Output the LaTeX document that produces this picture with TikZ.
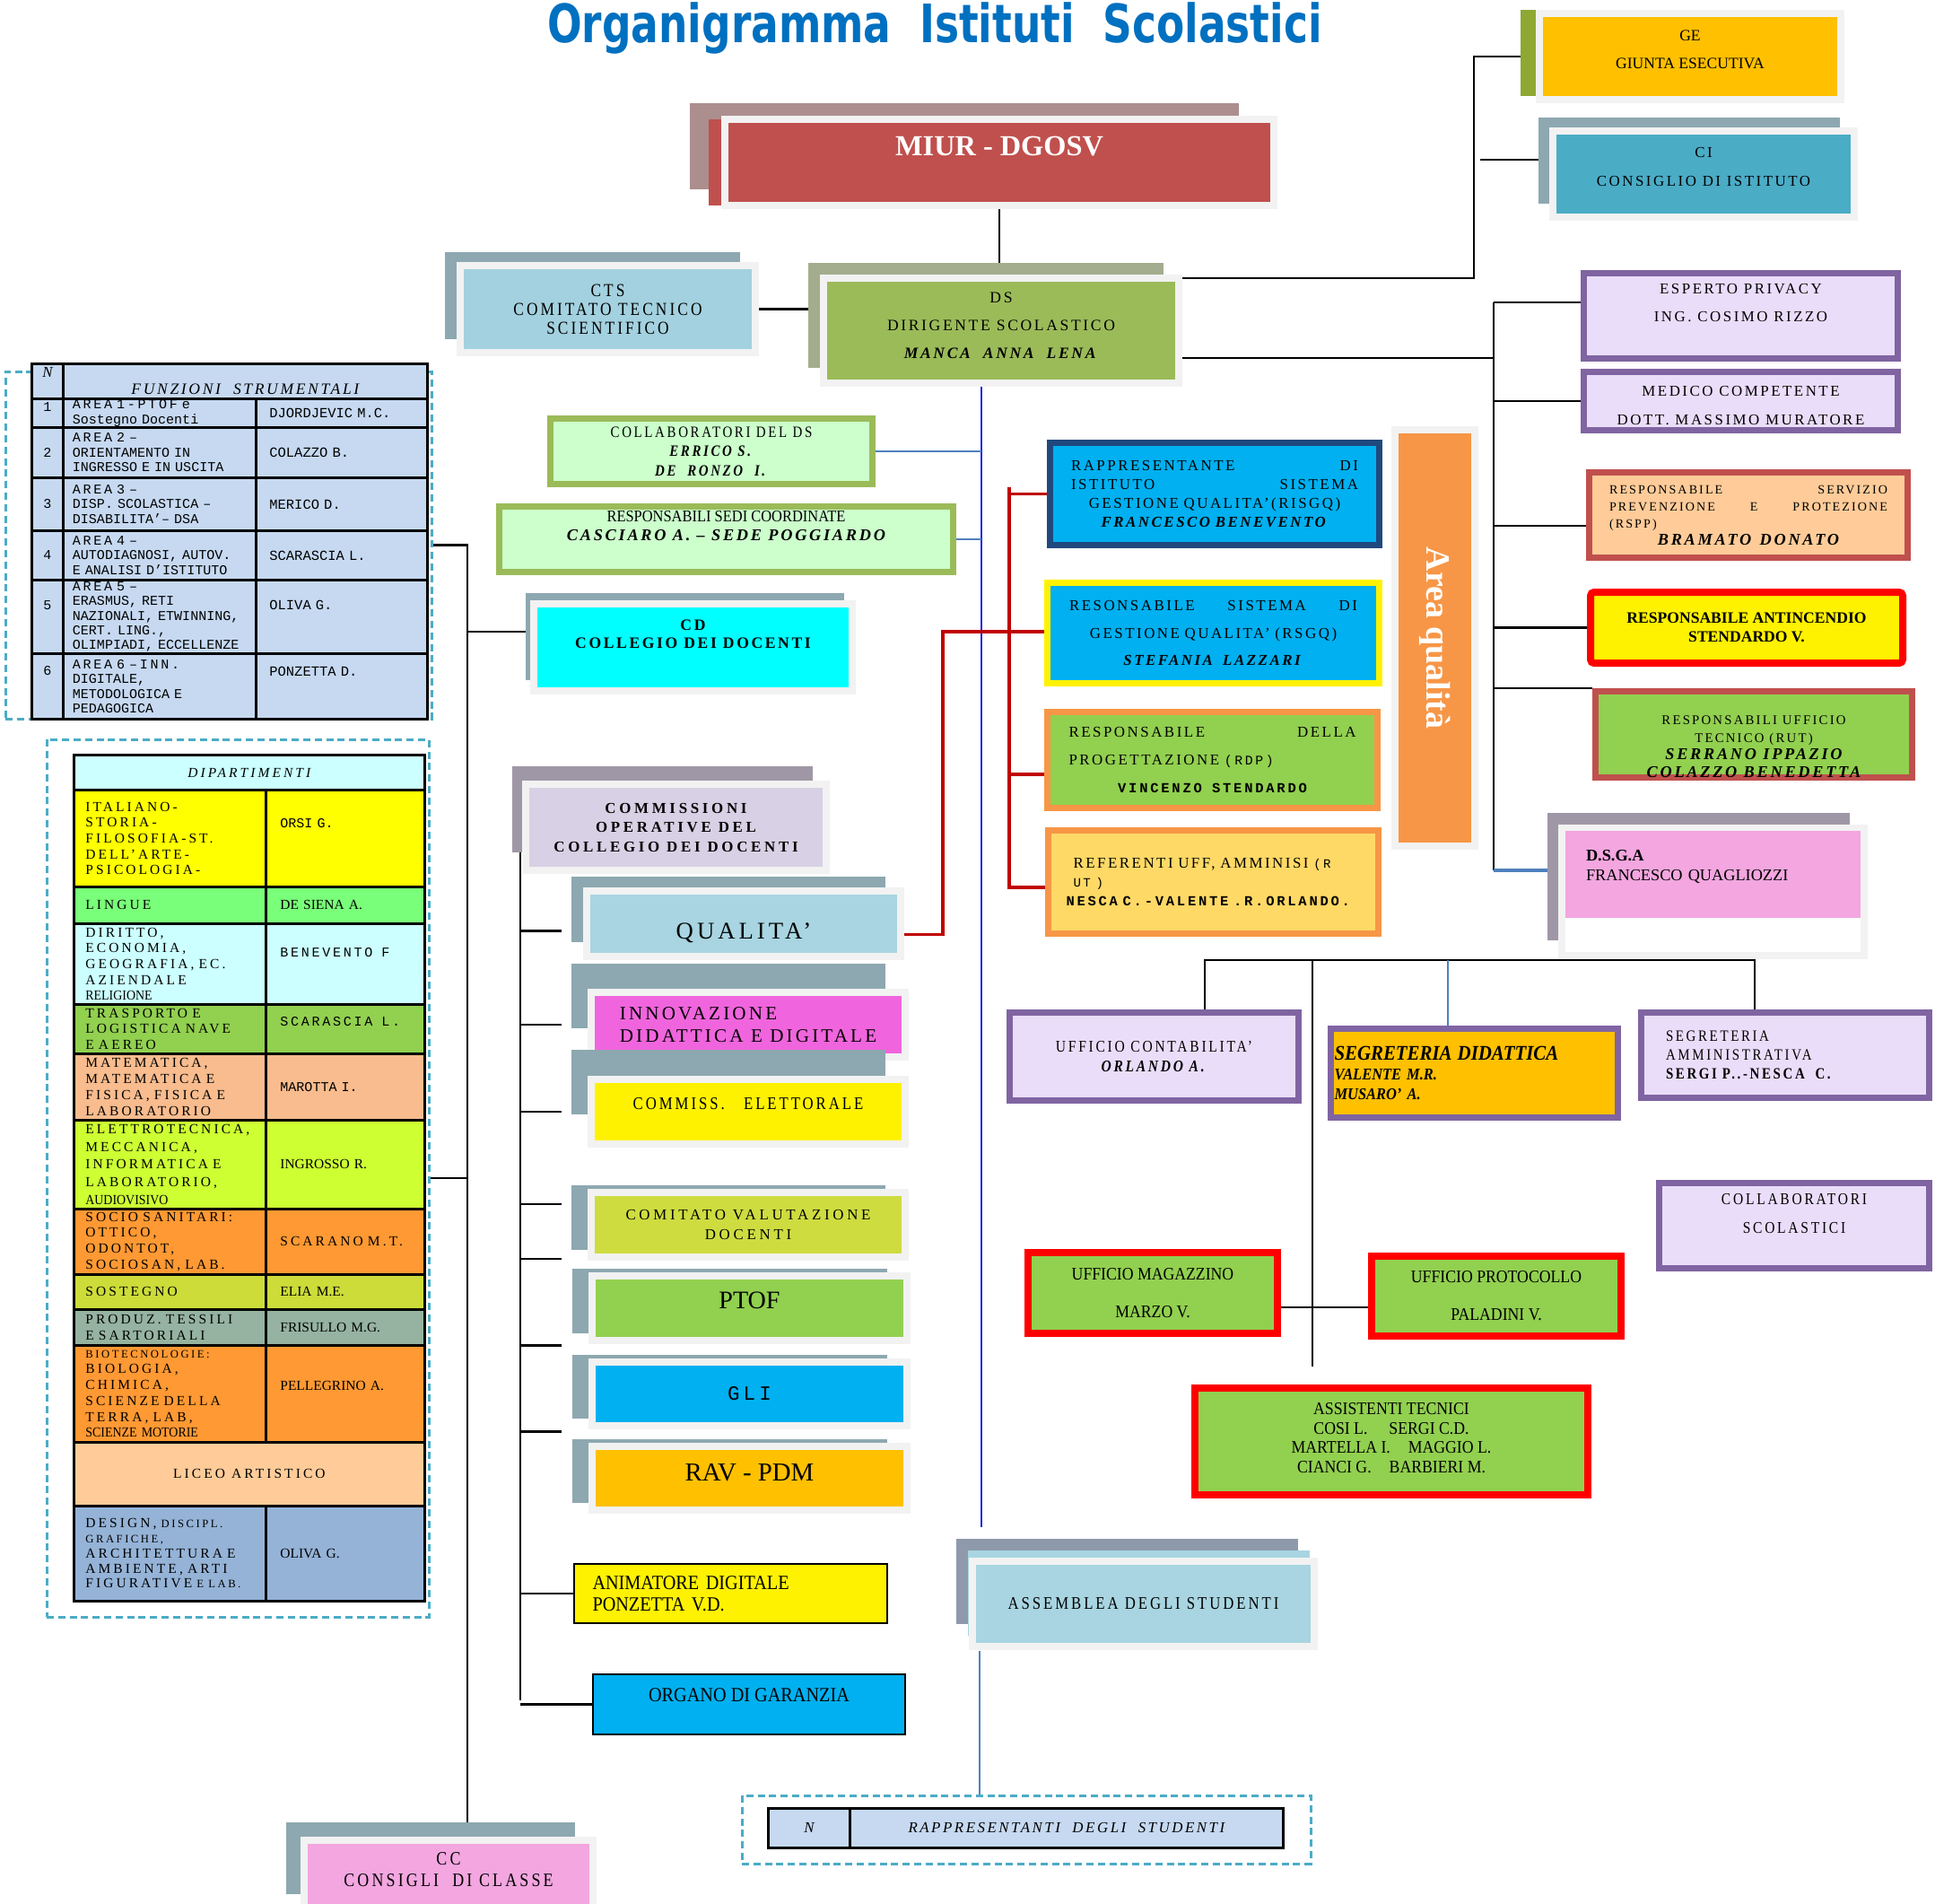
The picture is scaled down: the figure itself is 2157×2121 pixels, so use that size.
\documentclass[tikz,border=0pt]{standalone}
\usepackage{fontspec}
\setmainfont{Liberation Serif}
\setmonofont{Liberation Mono}
\newfontfamily\spacedrm[LetterSpace=15]{Liberation Serif}
\newfontfamily\widerm[LetterSpace=22]{Liberation Serif}
\newfontfamily\deptrm[LetterSpace=20]{Liberation Serif}
\newfontfamily\spacednarrow[LetterSpace=15,FakeStretch=0.85]{Liberation Serif}
\newfontfamily\narrowrm[FakeStretch=0.9]{Liberation Serif}
\newfontfamily\spacedtt[LetterSpace=18]{Liberation Mono}
\newfontfamily\titlesf[FakeStretch=0.77]{DejaVu Sans}
\usetikzlibrary{shadows, backgrounds}

\definecolor{titleblue}{HTML}{0070C0}
\definecolor{framegray}{HTML}{F2F2F2}
\definecolor{miurred}{HTML}{C0504D}
\definecolor{miurback}{HTML}{AC8E8E}
\definecolor{gold}{HTML}{FFC000}
\definecolor{geback}{HTML}{8DA933}
\definecolor{slateback}{HTML}{8DA8B0}
\definecolor{ciblue}{HTML}{4BACC6}
\definecolor{ctsblue}{HTML}{A3D1DF}
\definecolor{dsgreen}{HTML}{9BBB59}
\definecolor{dsback}{HTML}{A3AD8D}
\definecolor{mint}{HTML}{CCFFCC}
\definecolor{aqua}{HTML}{00FFFF}
\definecolor{commlilac}{HTML}{D8D0E4}
\definecolor{mauveback}{HTML}{9F97A6}
\definecolor{qualblue}{HTML}{A8D5E1}
\definecolor{innopink}{HTML}{F065DD}
\definecolor{comitatogreen}{HTML}{CEDC40}
\definecolor{leaf}{HTML}{92D050}
\definecolor{sky}{HTML}{00B0F0}
\definecolor{pinkcc}{HTML}{F3A6DF}
\definecolor{asmbback}{HTML}{8E9AAB}
\definecolor{navyedge}{HTML}{1F497D}
\definecolor{orangeedge}{HTML}{F79646}
\definecolor{butter}{HTML}{FFD966}
\definecolor{tanshade}{HTML}{D2A98A}
\definecolor{purpleedge}{HTML}{8064A2}
\definecolor{lavender}{HTML}{EADDFA}
\definecolor{brickedge}{HTML}{C0504D}
\definecolor{peach}{HTML}{FFCC99}
\definecolor{tableblue}{HTML}{C6D9F1}
\definecolor{dashcol}{HTML}{4BACC6}
\definecolor{redline}{HTML}{C00000}
\definecolor{dsblue}{HTML}{2020F0}
\definecolor{steel}{HTML}{4F81BD}
\definecolor{lightcyan}{HTML}{CCFFFF}
\definecolor{deptyellow}{HTML}{FFFF00}
\definecolor{deptgreen}{HTML}{79FF79}
\definecolor{deptolive}{HTML}{92D050}
\definecolor{deptpeach}{HTML}{F8BC8E}
\definecolor{deptlime}{HTML}{CDFF33}
\definecolor{deptorange}{HTML}{FF9933}
\definecolor{deptsost}{HTML}{CDDC39}
\definecolor{deptgrey}{HTML}{95B3A0}
\definecolor{deptliceo}{HTML}{FFCC99}
\definecolor{deptdesign}{HTML}{95B3D7}

\begin{document}
\begin{tikzpicture}[
    x=0.25mm, y=-0.25mm,
    boxsize/.style 2 args={minimum width=#1*0.25mm, minimum height=#2*0.25mm},
    panel/.style={draw=framegray, line width=2mm, fill=#1, inner sep=0pt},
    backing/.style n args={3}{general shadow={fill=#1, shadow xshift=#2, shadow yshift=#3}},
    tagbox/.style 2 args={draw=#1, fill=#2, line width=1.75mm, inner sep=0pt},
    cell/.style={draw, line width=0.7mm, fill=#1, inner sep=0pt, anchor=north west},
    fsnum/.style={cell=tableblue, font=\ttfamily\fontsize{10.7}{12}\selectfont},
    fsarea/.style={cell=tableblue, text width=48.5mm, align=left, font=\ttfamily\fontsize{10.7}{11.7}\selectfont},
    fsname/.style={cell=tableblue, text width=40.25mm, align=left, font=\ttfamily\fontsize{11}{12}\selectfont},
    deptl/.style={cell=#1, text width=47mm, align=left, font=\deptrm\fontsize{11}{12.6}\selectfont},
    deptr/.style={cell=#1, text width=36.25mm, align=left, font=\fontsize{11}{12}\selectfont},
    dashbox/.style={draw=dashcol, dashed, dash pattern=on 2mm off 1.2mm, line width=0.75mm, inner sep=0pt},
    conn/.style={line width=0.55mm, black},
    redconn/.style={line width=0.9mm, redline},
    blueconn/.style={line width=0.4mm, dsblue},
    steelconn/.style={line width=0.5mm, steel}
]
\useasboundingbox (0,0) rectangle (2157,2121);

\node[anchor=base, text=titleblue, font=\titlesf\bfseries\fontsize{42}{48}\selectfont] (title) at (1042,47) {Organigramma\ \ Istituti\ \ Scolastici};

% vertice
\node[panel=miurred, boxsize={612}{96}, backing={miurback}{-9.75mm}{4.5mm}, general shadow={fill=miurred, shadow xshift=-4.5mm, shadow yshift=0mm}, text=white, font=\bfseries\fontsize{23}{26}\selectfont, text depth=9mm] (miur) at (1114,181) {MIUR\ -\ DGOSV};
\node[panel=gold, boxsize={336}{96}, backing={geback}{-5.25mm}{1mm}, align=center, font=\fontsize{12.5}{22}\selectfont, text depth=4mm] (ge) at (1884,63) {GE\\GIUNTA ESECUTIVA};
\node[panel=ciblue, boxsize={336}{96}, backing={slateback}{-4mm}{3.75mm}, align=center, font=\spacedrm\fontsize{12}{22.5}\selectfont, text depth=4mm] (ci) at (1899,194) {CI\\CONSIGLIO DI ISTITUTO};
\node[panel=ctsblue, boxsize={329}{97}, backing={slateback}{-4.25mm}{3.75mm}, align=center, font=\spacednarrow\fontsize{14.5}{15}\selectfont] (cts) at (677.5,344.5) {CTS\\COMITATO TECNICO\\SCIENTIFICO};
\node[panel=dsgreen, boxsize={396}{117}, backing={dsback}{-4.25mm}{4.25mm}, align=center, font=\spacedrm\fontsize{12.5}{22}\selectfont, text depth=2.75mm] (ds) at (1116,368.5) {DS\\DIRIGENTE SCOLASTICO\\\textbf{\textit{MANCA\ \ ANNA\ \ LENA}}};

% staff del DS
\node[tagbox={dsgreen}{mint}, boxsize={359}{73}, align=center, font=\spacednarrow\fontsize{12.5}{15.3}\selectfont] (collab) at (793,503) {COLLABORATORI DEL DS\\\textbf{\textit{ERRICO S.}}\\\textbf{\textit{DE\ \ RONZO\ \ I.}}};
\node[tagbox={dsgreen}{mint}, boxsize={506}{73}, align=center, font=\narrowrm\fontsize{13}{15}\selectfont, text depth=7.5mm] (sedi) at (809.5,601) {RESPONSABILI SEDI COORDINATE\\{\spacedrm\bfseries\itshape CASCIARO A. – SEDE POGGIARDO}};
\node[panel=aqua, boxsize={355}{97}, backing={slateback}{-2.25mm}{3mm}, align=center, font=\spacedrm\bfseries\fontsize{12.5}{14.5}\selectfont, text depth=7.5mm] (cd) at (772.5,721.5) {CD\\COLLEGIO DEI DOCENTI};

% commissioni
\node[panel=commlilac, boxsize={335}{96}, backing={mauveback}{-3.75mm}{5mm}, align=center, font=\widerm\bfseries\fontsize{12}{15.3}\selectfont] (comm) at (753.5,922) {COMMISSIONI\\OPERATIVE DEL\\COLLEGIO DEI DOCENTI};
\node[panel=qualblue, boxsize={350}{73}, backing={slateback}{-4.25mm}{4mm}, font=\spacedrm\fontsize{19}{22}\selectfont, text height=9.7mm] (qualita) at (829,1029.5) {QUALITA’};
\node[panel=innopink, boxsize={350}{72}, backing={slateback}{-5.5mm}{8mm}, align=left, font=\spacedrm\fontsize{15}{17.8}\selectfont] (innov) at (834,1142) {INNOVAZIONE\\DIDATTICA E DIGITALE};
\node[panel=yellow, boxsize={350}{72}, backing={slateback}{-5.5mm}{8.25mm}, font=\spacednarrow\fontsize{14}{16}\selectfont, text depth=4.5mm] (elett) at (834,1239) {COMMISS.\ \ \ ELETTORALE};
\node[panel=comitatogreen, boxsize={350}{72}, backing={slateback}{-5.5mm}{2mm}, align=center, font=\widerm\fontsize{12}{15.6}\selectfont] (comitato) at (834,1365) {COMITATO VALUTAZIONE\\DOCENTI};
\node[panel=leaf, boxsize={351}{72}, backing={slateback}{-5.5mm}{2mm}, font=\fontsize{20}{22}\selectfont, text depth=4.5mm] (ptof) at (835.5,1458) {PTOF};
\node[panel=sky, boxsize={351}{71}, backing={slateback}{-5.5mm}{2mm}, font=\spacedtt\fontsize{16}{18}\selectfont] (gli) at (835.5,1553.5) {GLI};
\node[panel=gold, boxsize={351}{71}, backing={slateback}{-5.5mm}{2mm}, font=\fontsize{20.5}{22}\selectfont, text depth=3.5mm] (rav) at (835.5,1647.5) {RAV\ -\ PDM};
\node[draw, line width=0.5mm, fill=yellow, boxsize={349}{66}, inner sep=0pt, text width=77mm, align=left, font=\narrowrm\fontsize{16}{17}\selectfont] (animatore) at (814.5,1776) {ANIMATORE DIGITALE\\PONZETTA V.D.};
\node[draw, line width=0.5mm, fill=sky, boxsize={348}{67}, inner sep=0pt, font=\narrowrm\fontsize{16}{17}\selectfont, text depth=5mm] (organo) at (835,1899.5) {ORGANO DI GARANZIA};

% studenti e classi
\node[panel=qualblue, boxsize={381}{95}, backing={asmbback}{-4.5mm}{6.25mm}, general shadow={fill=qualblue, shadow xshift=-1.25mm, shadow yshift=3mm}, font=\spacednarrow\fontsize{14}{15}\selectfont] (assemblea) at (1274.5,1787.5) {ASSEMBLEA DEGLI STUDENTI};
\node[panel=pinkcc, boxsize={322}{80}, backing={slateback}{-5mm}{5mm}, align=center, font=\spacednarrow\fontsize{15}{17}\selectfont, text depth=3.75mm] (cc) at (500,2091) {CC\\CONSIGLI\ \ DI CLASSE};

% area qualita'
\node[panel=orangeedge, boxsize={464}{89}, rotate=-90, general shadow={fill=tanshade, shadow xshift=1mm, shadow yshift=-1mm}, text=white, font=\bfseries\fontsize{27}{30}\selectfont] (areaq) at (1599.5,711) {Area qualità};
\node[tagbox={navyedge}{sky}, boxsize={367}{114}, text width=80mm, align=center, font=\spacedrm\fontsize{12}{15}\selectfont] (risgq) at (1354,550.5) {RAPPRESENTANTE\hfill DI\\ISTITUTO\hfill SISTEMA\\GESTIONE QUALITA’(RISGQ)\\\textbf{\textit{FRANCESCO BENEVENTO}}};
\node[tagbox={yellow}{sky}, boxsize={370}{112}, text width=80.25mm, align=center, font=\spacedrm\fontsize{12}{22}\selectfont] (rsgq) at (1352.5,705.5) {RESONSABILE\hfill SISTEMA\hfill DI\\GESTIONE QUALITA’ (RSGQ)\\\textbf{\textit{STEFANIA\ \ LAZZARI}}};
\node[tagbox={orangeedge}{leaf}, boxsize={368}{107}, text width=80mm, align=center, font=\spacedrm\fontsize{12}{22}\selectfont] (rdp) at (1351.5,847) {RESPONSABILE\hfill DELLA\\PROGETTAZIONE {\spacedtt\fontsize{10.5}{22}\selectfont(RDP)}\hfill\mbox{}\\{\spacedtt\bfseries\fontsize{11}{22}\selectfont VINCENZO\ \ STENDARDO}};
\node[tagbox={orangeedge}{butter}, boxsize={368}{115}, text width=82mm, align=left, font=\spacedrm\fontsize{12}{15}\selectfont] (ref) at (1352.5,983) {\hspace*{2mm}REFERENTI UFF, AMMINISI {\spacedtt\fontsize{10}{15}\selectfont(R}\\\hspace*{2mm}{\spacedtt\fontsize{10}{15}\selectfont UT )}\\{\spacedtt\bfseries\fontsize{11}{15}\selectfont NESCA C.-VALENTE .R.ORLANDO.}};

% colonna destra
\node[tagbox={purpleedge}{lavender}, boxsize={350}{95}, align=center, font=\spacedrm\fontsize{12}{22}\selectfont, text depth=7.5mm] (esperto) at (1940.5,352) {ESPERTO PRIVACY\\ING. COSIMO RIZZO};
\node[tagbox={purpleedge}{lavender}, boxsize={350}{65}, align=center, font=\spacedrm\fontsize{12}{22.7}\selectfont, text height=13.5mm] (medico) at (1940.5,447) {MEDICO COMPETENTE\\DOTT. MASSIMO MURATORE};
\node[tagbox={brickedge}{peach}, boxsize={355}{95}, text width=77.5mm, align=center, font=\spacedrm\fontsize{10}{13.5}\selectfont] (rspp) at (1949,574) {RESPONSABILE\hfill SERVIZIO\\PREVENZIONE\hfill E\hfill PROTEZIONE\\(RSPP)\hfill\mbox{}\\{\fontsize{13}{13.5}\selectfont\bfseries\itshape BRAMATO\ \ DONATO}};
\node[draw=red, fill=yellow, line width=2mm, rounded corners=1mm, boxsize={348}{79}, inner sep=0pt, align=center, font=\bfseries\fontsize{12.5}{15}\selectfont] (antincendio) at (1947,699.5) {RESPONSABILE ANTINCENDIO\\STENDARDO V.};
\node[tagbox={brickedge}{leaf}, boxsize={353}{96}, align=center, font=\spacedrm\fontsize{10.5}{14}\selectfont, text height=24mm] (rut) at (1955,818.5) {RESPONSABILI UFFICIO\\TECNICO (RUT)\\{\fontsize{13}{14}\selectfont\bfseries\itshape SERRANO IPPAZIO}\\{\fontsize{13}{14}\selectfont\bfseries\itshape COLAZZO BENEDETTA}};
\node[panel=white, boxsize={337}{142}, backing={mauveback}{-4mm}{4.25mm}] (dsgaframe) at (1909.5,994) {};
\node[fill=pinkcc, boxsize={329}{97}, inner sep=0pt, text width=70.75mm, align=left, font=\fontsize{13}{15.6}\selectfont, text depth=10.5mm] (dsga) at (1909.5,974.5) {\textbf{D.S.G.A}\\FRANCESCO QUAGLIOZZI};

% uffici
\node[tagbox={purpleedge}{lavender}, boxsize={322}{98}, align=center, font=\spacednarrow\fontsize{13}{15.6}\selectfont] (contab) at (1286.5,1177.5) {UFFICIO CONTABILITA’\\\textbf{\textit{ORLANDO A.}}};
\node[tagbox={purpleedge}{gold}, boxsize={320}{99}, text width=78mm, align=left, font=\narrowrm\bfseries\itshape\fontsize{13}{15.5}\selectfont] (segdid) at (1643.5,1196) {{\fontsize{16.5}{15.5}\selectfont SEGRETERIA DIDATTICA}\\VALENTE M.R.\\MUSARO’ A.};
\node[tagbox={purpleedge}{lavender}, boxsize={321}{95}, text width=66.5mm, align=left, font=\spacednarrow\fontsize{12.5}{15}\selectfont] (segamm) at (1990,1176) {SEGRETERIA\\AMMINISTRATIVA\\\textbf{SERGI P..-NESCA\ \ C.}};
\node[tagbox={purpleedge}{lavender}, boxsize={301}{95}, align=center, font=\spacednarrow\fontsize{13}{22.7}\selectfont, text depth=7mm] (collabscol) at (2000,1366) {COLLABORATORI\\SCOLASTICI};
\node[draw=red, fill=leaf, line width=2mm, inner sep=0pt, boxsize={278}{90}, align=center, font=\narrowrm\fontsize{14}{30}\selectfont] (magazzino) at (1285,1441) {UFFICIO MAGAZZINO\\MARZO V.};
\node[draw=red, fill=leaf, line width=2mm, inner sep=0pt, boxsize={278}{89}, align=center, font=\narrowrm\fontsize{14}{30}\selectfont] (protocollo) at (1668,1444.5) {UFFICIO PROTOCOLLO\\PALADINI V.};
\node[draw=red, fill=leaf, line width=2mm, inner sep=0pt, boxsize={438}{119}, align=center, font=\narrowrm\fontsize{14}{15.5}\selectfont, text depth=2mm] (assistenti) at (1551,1606.5) {ASSISTENTI TECNICI\\COSI L.\hspace{6mm}SERGI C.D.\\MARTELLA I.\hspace{5mm}MAGGIO L.\\CIANCI G.\hspace{5mm}BARBIERI M.};

% tabelle
\node[dashbox, boxsize={475}{387}] (fsbox) at (243.5,607.5) {};
\node[dashbox, boxsize={426}{978}] (dpbox) at (265,1313) {};
\node[dashbox, boxsize={634}{76}] (rapbox) at (1144,2039) {};

\node[cell=tableblue, boxsize={35}{39}, font=\itshape\fontsize{12}{12}\selectfont, text height=2.75mm, text depth=5mm] (fsn) at (34,404) {N};
\node[cell=tableblue, boxsize={406}{39}, font=\spacedrm\itshape\fontsize{12.5}{12}\selectfont, text height=7.5mm, text depth=0mm] (fshead) at (69,404) {FUNZIONI\ \ STRUMENTALI};
\node[fsnum, boxsize={35}{32}, text depth=3.5mm] (fs1n) at (34,443) {1};
\node[fsarea, boxsize={215}{32}] (fs1a) at (69,443) {{\spacedtt AREA 1-PTOF e}\\Sostegno Docenti};
\node[fsname, boxsize={191}{32}] (fs1b) at (284,443) {DJORDJEVIC M.C.};
\node[fsnum, boxsize={35}{56}] (fs2n) at (34,475) {2};
\node[fsarea, boxsize={215}{56}] (fs2a) at (69,475) {{\spacedtt AREA 2 –}\\ORIENTAMENTO IN\\INGRESSO E IN USCITA};
\node[fsname, boxsize={191}{56}] (fs2b) at (284,475) {COLAZZO B.};
\node[fsnum, boxsize={35}{59}] (fs3n) at (34,531) {3};
\node[fsarea, boxsize={215}{59}] (fs3a) at (69,531) {{\spacedtt AREA 3 –}\\DISP. SCOLASTICA –\\DISABILITA’– DSA};
\node[fsname, boxsize={191}{59}] (fs3b) at (284,531) {MERICO D.};
\node[fsnum, boxsize={35}{55}] (fs4n) at (34,590) {4};
\node[fsarea, boxsize={215}{55}] (fs4a) at (69,590) {{\spacedtt AREA 4 –}\\AUTODIAGNOSI, AUTOV.\\E ANALISI D’ISTITUTO};
\node[fsname, boxsize={191}{55}] (fs4b) at (284,590) {SCARASCIA L.};
\node[fsnum, boxsize={35}{82}, text depth=6.5mm] (fs5n) at (34,645) {5};
\node[fsarea, boxsize={215}{82}] (fs5a) at (69,645) {{\spacedtt AREA 5 –}\\ERASMUS, RETI\\NAZIONALI, ETWINNING,\\CERT. LING.,\\OLIMPIADI, ECCELLENZE};
\node[fsname, boxsize={191}{82}, text depth=6.5mm] (fs5b) at (284,645) {OLIVA G.};
\node[fsnum, boxsize={35}{73}, text depth=8.5mm] (fs6n) at (34,727) {6};
\node[fsarea, boxsize={215}{73}] (fs6a) at (69,727) {{\spacedtt AREA 6 –INN.}\\DIGITALE,\\METODOLOGICA E\\PEDAGOGICA};
\node[fsname, boxsize={191}{73}, text depth=8.5mm] (fs6b) at (284,727) {PONZETTA D.};

\node[cell=lightcyan, boxsize={391}{39}, font=\deptrm\itshape\fontsize{11}{12}\selectfont] (dphead) at (81,840) {DIPARTIMENTI};
\node[deptl=deptyellow, boxsize={214}{108}] (dp1a) at (81,879) {ITALIANO-\\STORIA-\\FILOSOFIA-ST.\\DELL’ARTE-\\PSICOLOGIA-};
\node[deptr=deptyellow, boxsize={177}{108}, font=\ttfamily\fontsize{10.7}{12}\selectfont, text depth=8.5mm] (dp1b) at (295,879) {ORSI G.};
\node[deptl=deptgreen, boxsize={214}{41}] (dp2a) at (81,987) {LINGUE};
\node[deptr=deptgreen, boxsize={177}{41}] (dp2b) at (295,987) {DE SIENA A.};
\node[deptl=lightcyan, boxsize={214}{90}] (dp3a) at (81,1028) {DIRITTO,\\ECONOMIA,\\GEOGRAFIA, EC.\\AZIENDALE\\{\narrowrm RELIGIONE}};
\node[deptr=lightcyan, boxsize={177}{90}, font=\spacedtt\fontsize{10.7}{12}\selectfont, text depth=6.5mm] (dp3b) at (295,1028) {BENEVENTO\ \ F};
\node[deptl=deptolive, boxsize={214}{55}] (dp4a) at (81,1118) {TRASPORTO E\\LOGISTICA NAVE\\E AEREO};
\node[deptr=deptolive, boxsize={177}{55}, font=\spacedtt\fontsize{10.7}{12}\selectfont, text depth=4mm] (dp4b) at (295,1118) {SCARASCIA\ \ L.};
\node[deptl=deptpeach, boxsize={214}{74}] (dp5a) at (81,1173) {MATEMATICA,\\MATEMATICA E\\FISICA, FISICA E\\LABORATORIO};
\node[deptr=deptpeach, boxsize={177}{74}, font=\ttfamily\fontsize{10.7}{12}\selectfont] (dp5b) at (295,1173) {MAROTTA I.};
\node[deptl=deptlime, boxsize={214}{99}, font=\deptrm\fontsize{11}{14}\selectfont] (dp6a) at (81,1247) {ELETTROTECNICA,\\MECCANICA,\\INFORMATICA E\\LABORATORIO,\\{\narrowrm AUDIOVISIVO}};
\node[deptr=deptlime, boxsize={177}{99}] (dp6b) at (295,1247) {INGROSSO R.};
\node[deptl=deptorange, boxsize={214}{73}] (dp7a) at (81,1346) {SOCIO SANITARI:\\OTTICO,\\ODONTOT,\\SOCIOSAN, LAB.};
\node[deptr=deptorange, boxsize={177}{73}, font=\deptrm\fontsize{11}{12}\selectfont] (dp7b) at (295,1346) {SCARANO M.T.};
\node[deptl=deptsost, boxsize={214}{39}] (dp8a) at (81,1419) {SOSTEGNO};
\node[deptr=deptsost, boxsize={177}{39}] (dp8b) at (295,1419) {ELIA M.E.};
\node[deptl=deptgrey, boxsize={214}{40}] (dp9a) at (81,1458) {PRODUZ. TESSILI\\E SARTORIALI};
\node[deptr=deptgrey, boxsize={177}{40}] (dp9b) at (295,1458) {FRISULLO M.G.};
\node[deptl=deptorange, boxsize={214}{108}] (dp10a) at (81,1498) {{\fontsize{9}{12.6}\selectfont BIOTECNOLOGIE:}\\BIOLOGIA,\\CHIMICA,\\SCIENZE DELLA\\TERRA, LAB,\\{\narrowrm SCIENZE MOTORIE}};
\node[deptr=deptorange, boxsize={177}{108}, text depth=4.5mm] (dp10b) at (295,1498) {PELLEGRINO A.};
\node[cell=deptliceo, boxsize={391}{71}, font=\deptrm\fontsize{11}{12}\selectfont] (dp11) at (81,1606) {LICEO ARTISTICO};
\node[deptl=deptdesign, boxsize={214}{106}, font=\deptrm\fontsize{11}{11.9}\selectfont] (dp12a) at (81,1677) {DESIGN, {\fontsize{9}{11.9}\selectfont DISCIPL.}\\{\fontsize{9}{11.9}\selectfont GRAFICHE,}\\ARCHITETTURA E\\AMBIENTE, ARTI\\FIGURATIVE {\fontsize{9}{11.9}\selectfont E LAB.}};
\node[deptr=deptdesign, boxsize={177}{106}] (dp12b) at (295,1677) {OLIVA G.};

\node[cell=tableblue, boxsize={91}{44}, font=\itshape\fontsize{12}{12}\selectfont] (rapn) at (855,2014) {N};
\node[cell=tableblue, boxsize={483}{44}, font=\spacedrm\itshape\fontsize{12}{12}\selectfont] (raphead) at (946,2014) {RAPPRESENTANTI\ \ DEGLI\ \ STUDENTI};

% punti dei collegamenti
\coordinate (gebus) at (1643,310);
\coordinate (cistub) at (1650,178);
\coordinate (rds) at (1665,399);
\coordinate (rtop) at (1665,337);
\coordinate (rbot) at (1665,970);
\coordinate (dsbus) at (1094,1702);
\coordinate (asmbbus) at (1092,1840);
\coordinate (ltop) at (521,607.5);
\coordinate (lcd) at (521,704);
\coordinate (ctop) at (580,937);
\coordinate (cbot) at (580,1895);
\coordinate (cstub) at (626,0);
\coordinate (qa) at (1051,704);
\coordinate (qtop) at (1125,543);
\coordinate (qbot) at (1125,989);
\coordinate (obl) at (1343,1070);
\coordinate (obm) at (1614,1070);
\coordinate (obv) at (1463,1070);
\coordinate (obvend) at (1463,1523);
\coordinate (obr) at (1956,1070);

\begin{pgfonlayer}{background}
\fill[white] (0,0) rectangle (2157,2121);
\draw[conn] (miur.south) -- (miur.south |- ds.north);
\draw[conn] (cts.east) -- (cts.east -| ds.west);
\draw[conn] (ds.east |- gebus) -- (gebus) |- (ge.west);
\draw[conn] (cistub) -- (cistub -| ci.west);
\draw[conn] (ds.east |- rds) -- (rds);
\draw[conn] (rtop) -- (rbot);
\draw[conn] (rtop) -- (rtop -| esperto.west);
\draw[conn] (medico.west -| rtop) -- (medico.west);
\draw[conn] ([yshift=-3mm]rspp.west -| rtop) -- ([yshift=-3mm]rspp.west);
\draw[conn] (antincendio.west -| rtop) -- (antincendio.west);
\draw[conn] (rut.north west -| rtop) -- (rut.north west);
\draw[steelconn, line width=0.9mm] (rbot) -- (rbot -| dsgaframe.west);
\draw[blueconn] (ds.south -| dsbus) -- (dsbus);
\draw[steelconn] (collab.east) -- (collab.east -| dsbus);
\draw[steelconn] (sedi.east) -- (sedi.east -| dsbus);
\draw[steelconn] (asmbbus) -- (asmbbus |- rapbox.north);
\draw[conn] (fsbox.east) -- (ltop) -- (ltop |- cc.north);
\draw[conn] (lcd) -- (lcd -| cd.west);
\draw[conn] (dpbox.east) -- (dpbox.east -| ltop);
\draw[conn] (ctop) -- (cbot);
\draw[conn] ([yshift=-2mm]qualita.west -| ctop) -- ([yshift=-2mm]qualita.west -| cstub);
\draw[conn] (innov.west -| ctop) -- (innov.west -| cstub);
\draw[conn] (elett.west -| ctop) -- (elett.west -| cstub);
\draw[conn] ([yshift=5.75mm]comitato.west -| ctop) -- ([yshift=5.75mm]comitato.west -| cstub);
\draw[conn] ([yshift=13.75mm]ptof.west -| ctop) -- ([yshift=13.75mm]ptof.west -| cstub);
\draw[conn] ([yshift=13.5mm]gli.west -| ctop) -- ([yshift=13.5mm]gli.west -| cstub);
\draw[conn] ([yshift=13mm]rav.west -| ctop) -- ([yshift=13mm]rav.west -| cstub);
\draw[conn] (animatore.west -| ctop) -- (animatore.west);
\draw[conn] (organo.west -| ctop) -- (organo.west);
\draw[redconn] ([yshift=-3mm]qualita.east) -| (qa) -- (qa -| rsgq.west);
\draw[redconn] (qtop) -- (qbot) -- (qbot -| ref.west);
\draw[redconn] (risgq.west -| qtop) -- (risgq.west);
\draw[redconn] ([yshift=-4mm]rdp.west -| qtop) -- ([yshift=-4mm]rdp.west);
\draw[conn] (obl |- contab.north) -- (obl) -- (obr) -- (obr |- segamm.north);
\draw[steelconn, line width=0.3mm] (obm) -- (obm |- segdid.north);
\draw[conn] (obv) -- (obvend);
\draw[conn] ([yshift=-4mm]magazzino.east) -- ([yshift=-4mm]magazzino.east -| protocollo.west);
\end{pgfonlayer}
\end{tikzpicture}
\end{document}
